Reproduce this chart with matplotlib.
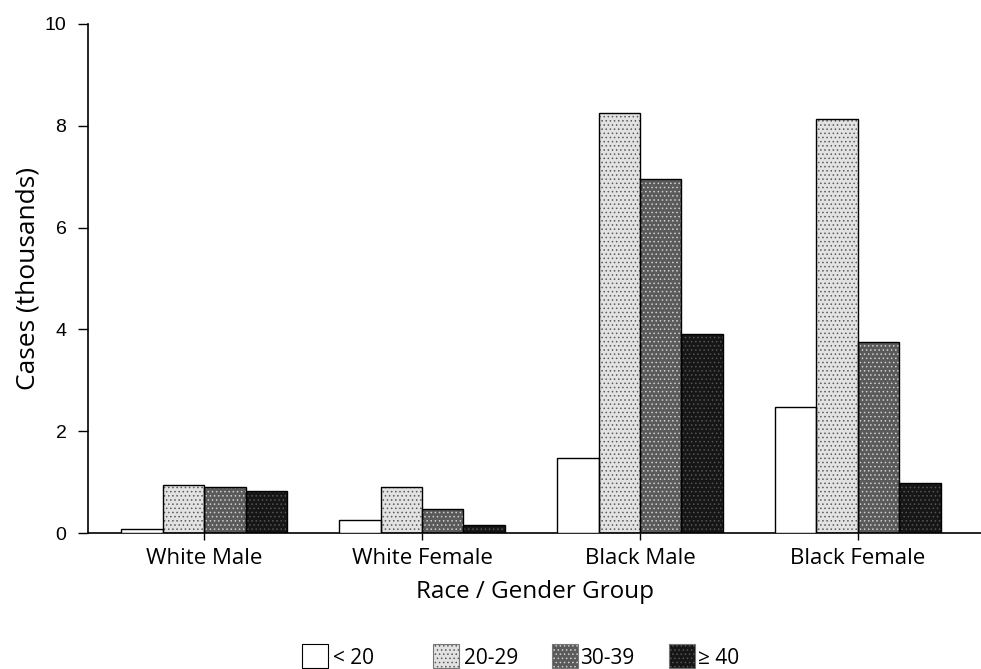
import matplotlib
matplotlib.use("Agg")
import matplotlib.pyplot as plt
import numpy as np
from matplotlib.patches import Rectangle

plt.rcParams['font.family'] = ['Open Sans', 'DejaVu Sans']
plt.rcParams['hatch.linewidth'] = 0.6

groups = ["White Male", "White Female", "Black Male", "Black Female"]
age_labels = ["< 20", "20-29", "30-39", "\u2265 40"]
lt20 = [0.07, 0.26, 1.47, 2.47]
a20_29 = [0.95, 0.91, 8.26, 8.13]
a30_39 = [0.90, 0.47, 6.95, 3.75]
ge40 = [0.83, 0.16, 3.90, 0.98]
series = [lt20, a20_29, a30_39, ge40]

faces = ['white', '#e2e2e2', '#5a5a5a', '#161616']
hatches = [None, '....', '....', '....']
hatch_cols = [None, '#5a5a5a', '#cfcfcf', '#555555']

W, H = 981, 669
fig = plt.figure(figsize=(W / 100, H / 100), dpi=100)
ax = fig.add_axes([88 / W, 1 - 533 / H, 1 - 88 / W, (533 - 24) / H])

x = np.arange(len(groups))
w = 0.19
offsets = [-1.5, -0.5, 0.5, 1.5]
for s, off, fc, h, hc in zip(series, offsets, faces, hatches, hatch_cols):
    if h is not None:
        ax.bar(x + off * w, s, w, color=fc, edgecolor=hc, hatch=h, linewidth=0, zorder=2)
    ax.bar(x + off * w, s, w, facecolor='none' if h else fc, edgecolor='black',
           linewidth=1.0, zorder=3)

ax.set_xlim(-0.533, 3.565)
ax.set_ylim(0, 10)
ax.set_yticks([0, 2, 4, 6, 8, 10])
ax.set_xticks(x)
ax.set_xticklabels(groups, fontsize=16)
for t in ax.get_yticklabels():
    t.set_fontfamily(['Liberation Sans', 'DejaVu Sans'])
    t.set_fontsize(14)
ax.tick_params(axis='y', length=7, width=1, direction='out', pad=8.5)
ax.tick_params(axis='x', length=5, width=1, direction='out', pad=6)
for sp in ['top', 'right']:
    ax.spines[sp].set_visible(False)
for sp in ['left', 'bottom']:
    ax.spines[sp].set_linewidth(1.2)

ax.set_xlabel("Race / Gender Group", fontsize=17.5, labelpad=8)
ax.set_ylabel("Cases (thousands)", fontsize=19, labelpad=3)

# legend drawn as a row of swatches + labels at the bottom
box_left = [302, 433, 552, 669]
text_left = [333, 464, 580, 698]
for bl, tl, fc, h, hc, lab in zip(box_left, text_left, faces, hatches, hatch_cols, age_labels):
    if h is not None:
        fig.add_artist(Rectangle((bl / W, 1 - 668 / H), 26 / W, 24 / H,
                                 transform=fig.transFigure, facecolor=fc,
                                 edgecolor=hc, hatch=h, linewidth=0))
    fig.add_artist(Rectangle((bl / W, 1 - 668 / H), 26 / W, 24 / H,
                             transform=fig.transFigure,
                             facecolor='none' if h else fc,
                             edgecolor='black' if h is None else '#777777', linewidth=0.8))
    fig.text(tl / W, 1 - 658 / H, lab, fontsize=15, ha='left', va='center')

fig.savefig("out.png", dpi=100)
